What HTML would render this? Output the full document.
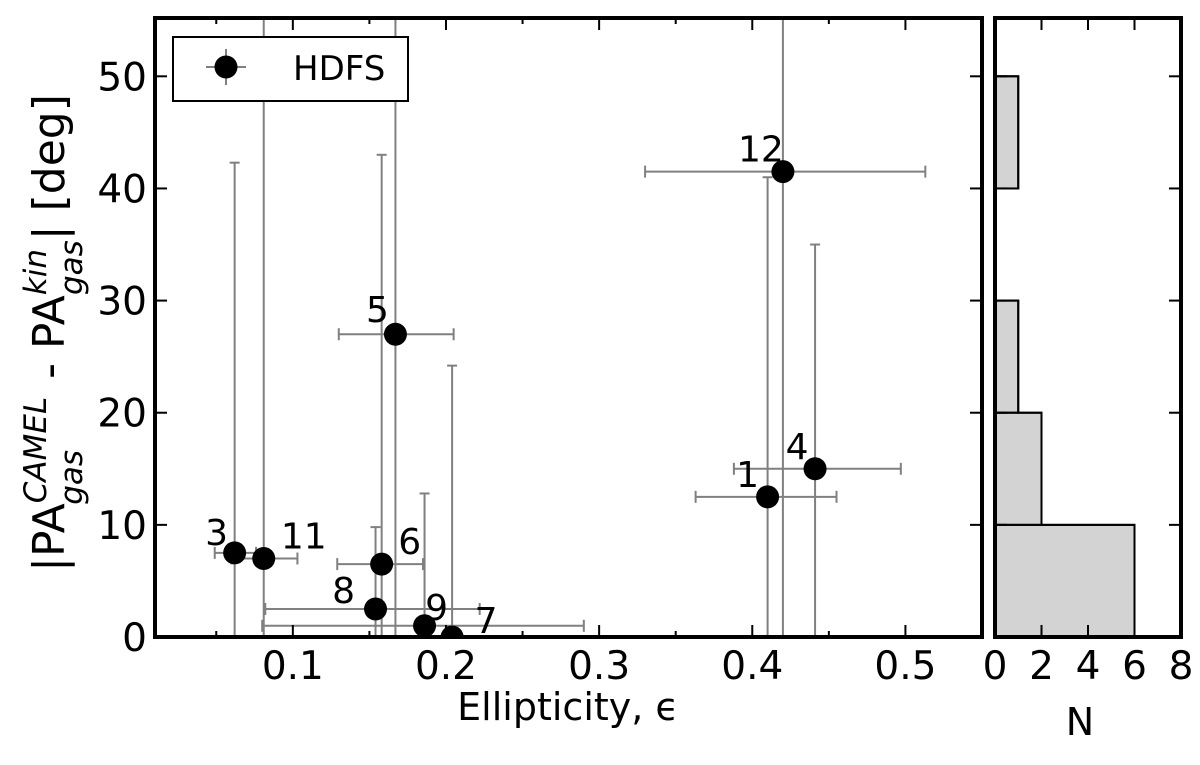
<!DOCTYPE html>
<html><head><meta charset="utf-8"><style>
body{margin:0;background:#fff;}
svg text{font-family:"DejaVu Sans","Liberation Sans",sans-serif;}
</style></head><body>
<svg id="chart" width="1200" height="760" xmlns="http://www.w3.org/2000/svg"></svg>
<script>
const labels=["1","3","4","5","6","7","8","9","11","12"];
const ellip=[0.410,0.062,0.441,0.167,0.158,0.204,0.154,0.186,0.081,0.420];
const dpa=[12.5,7.5,15,27,6.5,0,2.5,1,7,41.5];
const xlo=[0.363,0.049,0.388,0.130,0.129,0.204,0.082,0.080,0.060,0.330];
const xhi=[0.455,0.076,0.497,0.205,0.185,0.204,0.222,0.290,0.103,0.513];
const ylo=[0,0,0,0,0,0,0,0,0,0];
const yhi=[41,42.3,35,60,43,24.2,9.8,12.8,60,60];
const histBins=[0,10,20,30,40];
const histCounts=[6,2,1,0,1];
const xTicks=[0.1,0.2,0.3,0.4,0.5];
const yTicks=[0,10,20,30,40,50];
const nTicks=[0,2,4,6,8];
const labelOffsets=[[-20,-10],[-18,-8],[-18,-10],[-18,-12],[28,-10],[34,-4],[-32,-6],[12,-6],[40,-10],[-22,-10]];

const svg=document.getElementById('chart');const NS='http://www.w3.org/2000/svg';
function mk(t,a,p,txt){const e=document.createElementNS(NS,t);for(const k in a)e.setAttribute(k,a[k]);if(txt!==undefined)e.textContent=txt;(p||svg).appendChild(e);return e;}
const L=155,R=982,T=18,B=637;
const X=v=>L+(v-0.01)/(0.55-0.01)*(R-L);
const Y=v=>B-v/55.2*(B-T);
const HL=995,HR=1181;const HX=v=>HL+v/8*(HR-HL);
const defs=mk('defs',{});const cp=mk('clipPath',{id:'c'},defs);mk('rect',{x:L,y:T,width:R-L,height:B-T},cp);
const main=mk('g',{'clip-path':'url(#c)'});

for(let i=0;i<labels.length;i++){
 const g=mk('g',{},main);
 
 
 const cx=X(ellip[i]),cy=Y(dpa[i]);
 mk('line',{x1:cx,x2:cx,y1:Y(ylo[i]),y2:Y(yhi[i]),stroke:'#808080','stroke-width':2},g);
 mk('line',{x1:cx-5,x2:cx+5,y1:Y(yhi[i]),y2:Y(yhi[i]),stroke:'#808080','stroke-width':2},g);
 if(xhi[i]>xlo[i]){
 mk('line',{x1:X(xlo[i]),x2:X(xhi[i]),y1:cy,y2:cy,stroke:'#808080','stroke-width':2},g);
 mk('line',{x1:X(xlo[i]),x2:X(xlo[i]),y1:cy-6,y2:cy+6,stroke:'#808080','stroke-width':2},g);
 mk('line',{x1:X(xhi[i]),x2:X(xhi[i]),y1:cy-6,y2:cy+6,stroke:'#808080','stroke-width':2},g);}
}
for(let i=0;i<labels.length;i++){
 const cx=X(ellip[i]),cy=Y(dpa[i]);
 const c=mk('circle',{cx:cx,cy:cy,r:11.5,fill:'#000'},main);
 
 
 const t=mk('text',{x:cx+labelOffsets[i][0],y:cy+labelOffsets[i][1],'font-size':36,'text-anchor':'middle'},main,labels[i]);
 
 
}
const fr=mk('rect',{x:L,y:T,width:R-L,height:B-T,fill:'none',stroke:'#000','stroke-width':4});

for(let v=0.05;v<0.55;v+=0.05){const x=X(v);const major=Math.abs(Math.round(v*10)-v*10)<1e-6;const len=major?12:6;
 mk('line',{x1:x,x2:x,y1:B,y2:B-len,stroke:'#000','stroke-width':2});mk('line',{x1:x,x2:x,y1:T,y2:T+len,stroke:'#000','stroke-width':2});}
xTicks.forEach(v=>{const t=mk('text',{x:X(v),y:B+42,'font-size':39,'text-anchor':'middle'},svg,v.toFixed(1));
 });
yTicks.forEach(v=>{const y=Y(v);mk('line',{x1:L,x2:L+12,y1:y,y2:y,stroke:'#000','stroke-width':2});mk('line',{x1:R,x2:R-12,y1:y,y2:y,stroke:'#000','stroke-width':2});
 const t=mk('text',{x:L-8,y:y+14,'font-size':39,'text-anchor':'end'},svg,String(v));
 });
let t=mk('text',{x:568,y:720,'font-size':38,'text-anchor':'middle'},svg,'Ellipticity, ϵ');

const yt=mk('text',{transform:'translate(64,333) rotate(-90)','font-size':44,'text-anchor':'middle'});

yt.innerHTML='|PA<tspan font-size="31" dy="-18" font-style="italic">CAMEL</tspan><tspan font-size="31" dx="-108" dy="36" font-style="italic">gas</tspan><tspan dx="57" dy="-18"> - PA</tspan><tspan font-size="31" dy="-18" font-style="italic">kin</tspan><tspan font-size="31" dx="-46" dy="36" font-style="italic">gas</tspan><tspan dy="-18">|  [deg]</tspan>';
const lg=mk('g',{});
mk('rect',{x:173,y:37,width:235,height:64,fill:'#fff',stroke:'#000','stroke-width':2},lg);
mk('line',{x1:226,x2:226,y1:49,y2:85,stroke:'#808080','stroke-width':2},lg);
mk('line',{x1:206,x2:246,y1:67,y2:67,stroke:'#808080','stroke-width':2},lg);
mk('circle',{cx:226,cy:67,r:11.5,fill:'#000'},lg);
mk('text',{x:293,y:80,'font-size':34},lg,'HDFS');
const hg=mk('g',{});
let d='M'+HX(0)+','+Y(0);
histBins.forEach((b,i)=>{d+=' L'+HX(histCounts[i])+','+Y(b)+' L'+HX(histCounts[i])+','+Y(b+10);});
d+=' L'+HX(0)+','+Y(50)+' Z';
mk('path',{d:d,fill:'#d3d3d3',stroke:'#000','stroke-width':2},hg);
histBins.forEach((b,i)=>{if(histCounts[i]>0){const r=mk('rect',{x:HX(0),y:Y(b+10),width:HX(histCounts[i])-HX(0),height:Y(b)-Y(b+10),fill:'none',stroke:'#000','stroke-width':2},hg);
 }});
const hf=mk('rect',{x:HL,y:T,width:HR-HL,height:B-T,fill:'none',stroke:'#000','stroke-width':4});

nTicks.forEach(v=>{const x=HX(v);mk('line',{x1:x,x2:x,y1:B,y2:B-12,stroke:'#000','stroke-width':2});mk('line',{x1:x,x2:x,y1:T,y2:T+12,stroke:'#000','stroke-width':2});
 const t=mk('text',{x:x,y:B+42,'font-size':39,'text-anchor':'middle'},svg,String(v));});
yTicks.forEach(v=>{const y=Y(v);mk('line',{x1:HL,x2:HL+12,y1:y,y2:y,stroke:'#000','stroke-width':2});mk('line',{x1:HR,x2:HR-12,y1:y,y2:y,stroke:'#000','stroke-width':2});});
t=mk('text',{x:1080,y:735,'font-size':38,'text-anchor':'middle'},svg,'N');

</script>
</body></html>
